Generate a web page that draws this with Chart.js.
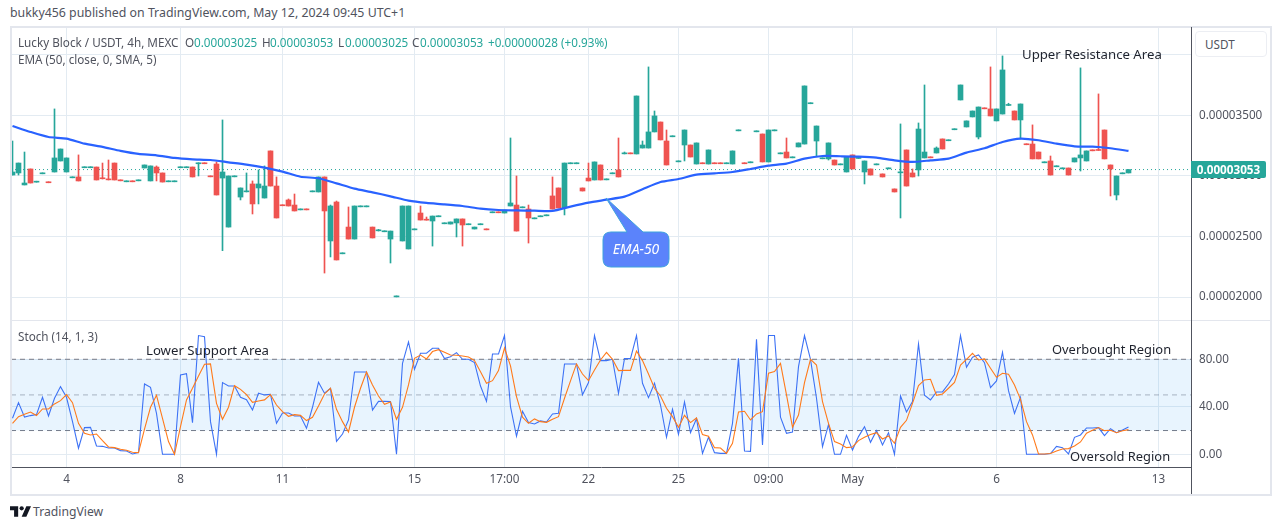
<!DOCTYPE html>
<html lang="en">
<head>
<meta charset="UTF-8">
<title>Lucky Block / USDT</title>
<script src="https://cdn.jsdelivr.net/npm/chart.js@4"></script>
<style>
    html, body { margin: 0; padding: 0; background: #fff; overflow: hidden; }
    body { width: 1281px; height: 530px; position: relative; font-family: "Noto Sans", sans-serif; font-size: 11.7px; color: #50535e; }
    canvas { position: absolute; left: 0; }
    #mainChart { top: 0; }
    #stochChart { top: 320px; }
    .t { position: absolute; white-space: nowrap; line-height: 16px; }
    .v { color: #26a69a; }
    .note { color: #1e222d; font-size: 13.2px; }
    .frame { position: absolute; background: #e3e6ed; }
    .dark { position: absolute; background: #50535e; }
    #usdt { position: absolute; left: 1195px; top: 31px; width: 70px; height: 24px; border: 1px solid #eceef3; border-radius: 4px; background: #fff; line-height: 24px; text-indent: 9px; }
    #lastPrice { position: absolute; left: 1191px; top: 161px; width: 75px; height: 17px; background: #26a69a; color: #fff; font-weight: 700; line-height: 17px; text-align: center; border-radius: 0 2px 2px 0; }
    #callout { position: absolute; left: 595px; top: 190px; }
</style>
</head>
<body>
<div class="t" style="left:10px;top:5px;font-size:12.35px">bukky456 published on TradingView.com, May 12, 2024 09:45 UTC+1</div>

<canvas id="mainChart" width="1281" height="320"></canvas>
<canvas id="stochChart" width="1281" height="175"></canvas>

<div class="frame" style="left:10px;top:26px;width:1261px;height:2px"></div>
<div class="frame" style="left:10px;top:26px;width:2px;height:469px"></div>
<div class="frame" style="left:1270px;top:26px;width:2px;height:469px"></div>
<div class="frame" style="left:10px;top:494px;width:1262px;height:2px"></div>
<div class="frame" style="left:10px;top:320px;width:1261px;height:1px"></div>
<div class="dark" style="left:1191px;top:27px;width:1px;height:467px"></div>

<div class="t" style="left:18px;top:34px">Lucky Block / USDT, 4h, MEXC</div>
<div class="t" style="left:185px;top:34px">O</div><div class="t v" style="left:194px;top:34px">0.00003025</div>
<div class="t" style="left:262px;top:34px">H</div><div class="t v" style="left:270px;top:34px">0.00003053</div>
<div class="t" style="left:338px;top:34px">L</div><div class="t v" style="left:345px;top:34px">0.00003025</div>
<div class="t" style="left:412px;top:34px">C</div><div class="t v" style="left:420px;top:34px">0.00003053</div>
<div class="t v" style="left:488px;top:34px">+0.00000028 (+0.93%)</div>
<div class="t" style="left:18px;top:51px">EMA (50, close, 0, SMA, 5)</div>
<div class="t" style="left:18px;top:328px">Stoch (14, 1, 3)</div>

<div class="t note" style="left:1022px;top:46px">Upper Resistance Area</div>
<div class="t note" style="left:146px;top:342px">Lower Support Area</div>
<div class="t note" style="left:1052px;top:341px;font-size:12.9px">Overbought Region</div>
<div class="t note" style="left:1070px;top:448px;font-size:12.9px">Oversold Region</div>

<div id="usdt">USDT</div>
<div id="lastPrice">0.00003053</div>

<svg id="callout" width="80" height="82" viewBox="595 190 80 82">
    <path d="M606 198 L627 232 H611 Q603 232 603 240 V259 Q603 267 611 267 H661 Q669 267 669 259 V240 Q669 232 661 232 H643 Z" fill="#5b83fb" stroke="#3fa3dc" stroke-width="1"/>
    <text x="636" y="254" text-anchor="middle" fill="#fff" font-family="Noto Sans, sans-serif" font-size="14" font-style="italic">EMA-50</text>
</svg>

<svg style="position:absolute;left:10px;top:506px" width="21" height="11" viewBox="0 0 36 18">
    <path d="M14 0H0v7h7v11h7zM28 18h-8L28 0h8z" fill="#131722"/><circle cx="20" cy="3.6" r="3.6" fill="#131722"/>
</svg>
<div class="t" style="left:33px;top:504px;font-size:12.2px;color:#50535e">TradingView</div>

<script>
    // prices are in units of 0.00000001
    const opens = [
        3008,3025,2926,3058,2949,3018,2952,3033,3124,3033,
        2985,2992,3068,3068,3074,2985,2976,3107,2968,2952,
        2960,2960,3066,2959,3074,3025,2952,2952,3068,3068,
        3074,3101,3109,3001,3099,2983,2578,2993,2826,2869,
        2934,2901,2818,3207,2917,2762,2802,2760,2720,2728,
        2869,2868,2992,2463,2785,2357,2578,2479,2745,2745,
        2578,2547,2539,2479,2001,2463,2397,2555,2694,2643,
        2628,2663,2605,2603,2612,2645,2597,2562,2597,2563,
        2696,2704,2694,2752,2760,2737,2727,2646,2663,2671,
        2835,2901,2736,3101,3101,2901,2983,2967,3091,2968,
        3018,3050,3183,3191,3182,3231,3231,3364,3446,3289,
        3324,3117,3256,3256,3099,3109,3099,3109,3109,3101,
        3099,3373,3109,3109,3365,3347,3116,3373,3183,3198,
        3150,3240,3264,3597,3289,3142,3141,3132,3092,3033,
        3174,3145,3033,3058,3092,3017,3059,2893,3026,3215,
        3025,3050,3149,3158,3190,3306,3291,3382,3628,3405,
        3488,3322,3563,3554,3455,3512,3583,3537,3463,3266,
        3264,3198,3109,3124,3076,3059,3066,3116,3149,3124,
        3216,3219,3380,3091,2843,3018,3025
    ];
    const closes = [
        3033,3107,2942,2942,2957,3026,2944,3149,3223,3149,
        2993,2959,3076,3076,2967,2977,2968,2967,2960,2960,
        2952,2968,3091,3083,3025,2950,2960,2960,3076,3076,
        2992,3109,3101,2993,2843,3033,3000,3001,2901,2877,
        2769,2934,2917,2917,2653,2754,2752,2711,2728,2720,
        2877,2992,2711,2752,2306,2365,2479,2752,2753,2753,
        2488,2555,2547,2545,2009,2752,2752,2563,2636,2635,
        2669,2671,2613,2620,2645,2595,2605,2578,2605,2555,
        2704,2696,2719,2777,2545,2745,2653,2654,2671,2679,
        2727,2736,3107,3109,3109,2876,2959,3116,2967,2976,
        3026,2992,3191,3183,3661,3256,3364,3496,3298,3091,
        3332,3125,3380,3157,3273,3101,3215,3101,3101,3109,
        3207,3381,3101,3117,3373,3116,3380,3381,3191,3149,
        3158,3273,3744,3605,3413,3150,3273,3091,3100,3157,
        3058,3153,3124,3008,3100,2992,3067,2868,3034,2917,
        2992,3388,3198,3150,3231,3223,3299,3390,3752,3455,
        3537,3570,3555,3496,3554,3876,3591,3463,3595,3258,
        3141,3141,3117,3008,3084,3067,3008,3149,3174,3207,
        3208,3211,3141,3058,3000,3026,3053
    ];
    const highs = [
        3289,3107,3198,3058,2957,3026,2952,3554,3223,3149,
        2993,3174,3076,3076,3074,3107,3132,3107,2968,2960,
        2960,2968,3091,3083,3083,3025,2960,2960,3076,3076,
        3074,3109,3109,3001,3116,3463,3000,3001,2901,3025,
        2959,3050,3083,3207,2992,2762,2810,2851,2728,2728,
        2877,2992,2992,2760,2793,2365,2744,2752,2753,2753,
        2578,2559,2547,2545,2009,2752,2752,2563,2752,2661,
        2669,2671,2613,2620,2645,2645,2605,2578,2605,2563,
        2704,2704,2719,3314,3000,2745,2760,2654,2671,2679,
        2992,2901,3107,3109,3109,2901,3107,3116,3091,2976,
        3026,3314,3198,3191,3661,3289,3901,3537,3446,3380,
        3332,3125,3380,3256,3273,3109,3215,3109,3109,3109,
        3207,3381,3109,3117,3373,3347,3380,3381,3191,3314,
        3158,3273,3744,3605,3413,3150,3273,3132,3100,3157,
        3174,3153,3124,3058,3100,3017,3067,2893,3430,3215,
        3058,3438,3752,3158,3240,3306,3299,3390,3752,3455,
        3537,3570,3563,3901,3554,3992,3601,3537,3595,3266,
        3422,3198,3117,3165,3084,3067,3066,3149,3893,3207,
        3216,3678,3380,3091,3000,3026,3053
    ];
    const lows = [
        3008,3008,2926,2942,2949,3018,2944,3033,3124,3033,
        2985,2959,3068,3068,2967,2975,2967,2967,2960,2952,
        2952,2960,3066,2959,2959,2950,2952,2952,3068,3068,
        2992,3000,3101,2993,2843,2383,2578,2993,2802,2868,
        2686,2769,2818,2917,2653,2754,2752,2711,2720,2720,
        2869,2868,2198,2331,2306,2357,2479,2479,2745,2745,
        2488,2545,2539,2281,2001,2463,2397,2555,2636,2635,
        2421,2663,2605,2603,2496,2421,2597,2562,2597,2555,
        2696,2696,2694,2752,2545,2737,2446,2646,2663,2671,
        2727,2736,2678,3101,3101,2876,2959,2967,2967,2968,
        3018,2992,3182,3183,3182,3231,3231,3364,3298,3091,
        3324,3117,3124,3157,3099,3101,3099,3101,3101,3101,
        3099,3373,3101,3109,3365,3116,3116,3373,3183,3149,
        3150,3240,3264,3597,3165,3142,3132,3091,3092,3033,
        3058,3145,2934,3008,3092,2992,3059,2868,2653,2917,
        2992,3000,3149,3150,3190,3223,3291,3382,3628,3405,
        3488,3306,3555,3496,3455,3512,3581,3463,3306,3258,
        3141,3141,3109,3008,3076,3059,3008,3116,3041,3124,
        3208,3211,3141,2835,2802,3018,3025
    ];

    // EMA read every third candle
    const emaStep = 3;
    const emaValues = [
        3413,3364,3322,3309,3267,3240,3207,3182,3171,3149,3138,3132,3113,3094,3069,3036,2994,2981,
        2939,2895,2865,2832,2796,2777,2766,2752,2730,2719,2716,2713,2711,2747,2780,2804,2829,2890,
        2950,2975,3011,3022,3033,3058,3085,3102,3143,3165,3163,3160,3152,3129,3116,3129,3143,3193,
        3229,3281,3309,3295,3267,3245,3242,3229,3207
    ];

    const stochK = [
        30.3,43.5,31.4,32.6,33.4,48.0,32.3,47.2,57.0,48.0,
        27.5,5.1,22.5,22.7,7.0,6.7,5.3,5.3,3.1,2.8,
        0.3,1.4,59.2,56.4,34.5,0,0,0,66.8,67.9,
        26.7,100,99.1,27.5,0,60.4,57.5,57.5,48.0,46.0,
        37.3,51.4,50.0,50.5,26.1,34.8,34.8,32.3,32.3,21.9,
        39.6,60.6,51.4,55.6,10.9,17.1,28.9,69.3,69.3,69.3,
        37.3,44.6,44.6,44.4,0,76.6,94.6,71.6,85.1,85.1,
        89.3,89.3,80.6,82.2,85.6,80.0,80.0,77.2,57.5,44.6,
        84.5,84.5,100,40.1,15.2,36.2,26.7,25.5,28.1,27.2,
        34.0,34.5,76.1,76.1,76.1,50.2,60.4,100,78.9,78.9,
        80.0,51.4,80.6,80.6,100,59.8,47.7,59.8,41.5,14.3,
        37.9,16.8,44.1,18.2,30.0,0.8,14.3,1.4,0.8,0.8,
        26.1,80.8,2.8,2.5,96.8,7.9,100,100,31.2,17.7,
        18.8,73.8,100,80.0,47.2,6.5,25.0,0,0,16.0,
        3.6,14.9,23.3,10.1,19.9,7.9,18.2,0,49.1,35.6,
        44.4,92.9,49.7,45.8,52.5,52.5,59.2,67.1,100,73.3,
        81.7,83.6,77.2,56.1,61.8,85.9,53.6,34.5,48.0,0,
        0,0,0,0.6,6.7,5.6,0.3,14.3,16.3,22.2,
        22.2,22.5,15.7,21.6,18.2,20.5,23.0
    ];
    const stochD = [
        26.1,31.7,33.7,35.6,32.6,38.2,38.2,42.4,45.2,50.2,
        43.5,26.1,17.7,16.3,17.1,11.5,6.2,5.6,4.2,3.4,
        1.7,1.4,21.1,39.6,49.7,30.3,10.7,0,23.3,45.8,
        55.6,66.0,75.8,76.1,42.9,29.5,39.6,57.8,54.7,50.2,
        43.8,44.9,45.8,50.2,41.5,35.9,32.0,33.4,32.8,28.4,
        31.2,40.7,50.8,55.6,37.9,27.5,18.8,39.6,55.6,69.3,
        58.4,49.1,42.1,44.1,29.5,39.6,58.4,80.8,83.6,80.3,
        86.5,88.1,85.9,83.6,83.4,82.8,82.0,78.9,69.6,59.8,
        62.0,70.5,89.5,74.4,48.6,31.2,26.1,29.8,27.5,26.9,
        29.5,31.7,47.2,61.8,76.1,67.6,62.0,71.0,79.4,85.9,
        80.0,70.5,70.7,70.7,87.0,78.9,67.6,55.6,49.1,38.7,
        31.7,22.7,32.8,26.7,30.6,16.6,15.2,5.6,5.3,0.8,
        9.3,35.6,36.2,28.9,34.0,35.9,68.2,69.6,76.6,50.0,
        22.7,33.1,60.4,80.0,75.2,44.4,26.1,10.7,8.7,5.6,
        6.2,11.5,14.3,16.6,18.2,12.9,15.4,9.3,22.7,28.6,
        42.9,57.8,62.6,63.2,49.7,50.8,55.6,60.6,75.2,80.0,
        85.1,79.4,80.3,72.4,64.8,68.2,67.4,58.4,46.3,27.5,
        16.3,0.3,0.3,0.6,2.8,4.5,4.8,7.0,10.4,17.7,
        20.2,22.5,19.9,20.2,18.2,19.9,20.8
    ];

    const lastPrice = 3053;
    const priceTicks = [2000, 2500, 3000, 3500, 4000];
    const hiddenPriceLabel = 4000; // sits under the USDT button in the original
    const stochTicks = [0, 40, 80];
    const stochUpper = 80, stochMiddle = 50, stochLower = 20;
    const dateTickBars = [9, 28, 45, 67, 82, 96, 111, 126, 140, 164, 191];
    const dateTickLabels = ['4', '8', '11', '15', '17:00', '22', '25', '09:00', 'May', '6', '13'];

    const UP = '#26a69a', DOWN = '#ef5350', GRID = '#e3ebf2';
    const FONT = { family: '"Noto Sans", sans-serif', size: 11.7 };
    const TEXT = '#50535e';
    const xMin = -0.25, xMax = 196.4167;

    function xScale(showLabels) {
        return {
            type: 'linear', min: xMin, max: xMax, offset: false,
            grid: { color: GRID, offset: false, drawTicks: false },
            border: { display: false },
            afterBuildTicks: s => { s.ticks = dateTickBars.map(v => ({ value: v })); },
            ticks: {
                display: showLabels, autoSkip: false, maxRotation: 0, padding: 6,
                color: TEXT, font: FONT,
                callback: v => dateTickLabels[dateTickBars.indexOf(v)]
            },
            afterFit: s => { s.height = showLabels ? 28 : 0; }
        };
    }

    function yScale(min, max, tickValues, format) {
        return {
            position: 'right', min: min, max: max,
            grid: { color: GRID, drawTicks: false },
            border: { display: false },
            afterBuildTicks: s => { s.ticks = tickValues.map(v => ({ value: v })); },
            ticks: { padding: 8, color: TEXT, font: FONT, callback: format },
            // no extra room above and below the pane for the tick labels
            afterFit: s => { s.width = 90; s.paddingTop = 0; s.paddingBottom = 0; }
        };
    }

    const candleBars = opens.map((o, i) => i);
    const candleColors = opens.map((o, i) => closes[i] >= o ? UP : DOWN);

    new Chart(document.getElementById('mainChart'), {
        type: 'bar',
        data: {
            datasets: [
                {
                    label: 'wick', order: 3, grouped: false, barThickness: 1,
                    backgroundColor: candleColors,
                    data: candleBars.map(i => ({ x: i, y: [lows[i], highs[i]] }))
                },
                {
                    label: 'body', order: 2, grouped: false, barThickness: 5,
                    backgroundColor: candleColors,
                    data: candleBars.map(i => ({ x: i, y: [opens[i], closes[i]] }))
                },
                {
                    type: 'line', label: 'EMA', order: 1,
                    borderColor: '#2962ff', borderWidth: 2.2, pointRadius: 0, tension: 0.2,
                    data: emaValues.map((v, k) => ({ x: k * emaStep, y: v }))
                },
                {
                    type: 'line', label: 'last', order: 4,
                    borderColor: UP, borderWidth: 1, borderDash: [1, 3], pointRadius: 0,
                    data: [{ x: xMin, y: lastPrice }, { x: xMax, y: lastPrice }]
                }
            ]
        },
        options: {
            responsive: false, animation: false, devicePixelRatio: 1,
            layout: { padding: { left: 11, top: 27, right: 0, bottom: 0 } },
            plugins: { legend: { display: false }, tooltip: { enabled: false } },
            scales: {
                x: xScale(false),
                y: yScale(1810, 4231, priceTicks, v => v === hiddenPriceLabel ? '' : (v / 1e8).toFixed(8))
            }
        }
    });

    function levelLine(value, color, order) {
        return {
            label: 'level', order: order,
            borderColor: color, borderWidth: 1, borderDash: [5, 4], pointRadius: 0,
            data: [{ x: xMin, y: value }, { x: xMax, y: value }]
        };
    }

    new Chart(document.getElementById('stochChart'), {
        type: 'line',
        data: {
            datasets: [
                Object.assign(levelLine(stochUpper, '#787b86', 4), {
                    fill: { target: '+1' }, backgroundColor: 'rgba(33,150,243,0.1)'
                }),
                levelLine(stochLower, '#787b86', 4),
                levelLine(stochMiddle, 'rgba(120,123,134,0.55)', 4),
                {
                    label: '%K', order: 2, borderColor: '#3d72f5', borderWidth: 1.1, pointRadius: 0,
                    data: stochK.map((v, i) => ({ x: i, y: v }))
                },
                {
                    label: '%D', order: 1, borderColor: '#ff7a1a', borderWidth: 1.1, pointRadius: 0,
                    data: stochD.map((v, i) => ({ x: i, y: v }))
                }
            ]
        },
        options: {
            responsive: false, animation: false, devicePixelRatio: 1,
            layout: { padding: { left: 11, top: 1, right: 0, bottom: 0 } },
            plugins: { legend: { display: false }, tooltip: { enabled: false } },
            scales: {
                x: Object.assign(xScale(true), {
                    border: { display: true, color: TEXT, width: 1 }
                }),
                y: yScale(-10.7, 112.25, stochTicks, v => v.toFixed(2))
            }
        }
    });
</script>
</body>
</html>
